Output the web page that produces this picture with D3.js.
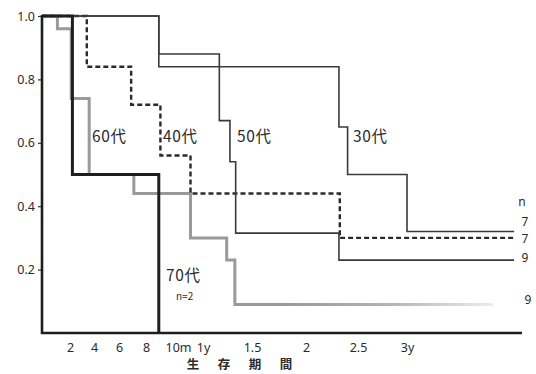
<!DOCTYPE html>
<html><head><meta charset="utf-8">
<script src="https://cdn.jsdelivr.net/npm/d3@7"></script>
<style>
  body { margin: 0; background: #fff; }
  text { font-family: "Noto Sans CJK JP", "Noto Sans", sans-serif; fill: #2b2b2b; }
</style>
</head><body>
<svg id="chart" width="536" height="374"></svg>
<script>
// Kaplan–Meier style survival by age group: time in months, survival proportion
const groups   = ["30代", "40代", "50代", "60代", "70代"];
const times30  = [0, 8.8, 27.8, 28.8, 36];
const surv30   = [1.0, 0.84, 0.65, 0.50, 0.32];
const times40  = [0, 3.4, 6.9, 8.9, 11, 27.9];
const surv40   = [1.0, 0.84, 0.72, 0.56, 0.44, 0.30];
const times50  = [0, 8.8, 14, 15.3, 16, 27.8];
const surv50   = [1.0, 0.88, 0.67, 0.54, 0.315, 0.23];
const times60  = [0, 1.1, 2.1, 3.6, 7.1, 11, 14.9, 15.9];
const surv60   = [1.0, 0.96, 0.74, 0.50, 0.44, 0.30, 0.23, 0.09];
const times70  = [0, 2.2, 8.8];
const surv70   = [1.0, 0.5, 0];
const followUp = [50.9, 50.9, 50.9, 48, 8.8];   // last observed month per group
const nLabels  = ["7", "7", "9", "9", "n=2"];

const yTickVals  = [1.0, 0.8, 0.6, 0.4, 0.2];
const yTickText  = ["1.0", "0.8", "0.6", "0.4", "0.2"];
const xTickVals  = [2, 4, 6, 8, 10, 12, 18, 24, 30, 36];
const xTickText  = ["2", "4", "6", "8", "10m", "1y", "1.5", "2", "2.5", "3y"];
const xTitle     = ["生", "存", "期", "間"];

const svg = d3.select("#chart");

// The time axis is stretched for the first months and compressed afterwards
const x = d3.scaleLinear()
  .domain([0, 2, 4, 6, 8, 10, 12, 18, 24, 30, 36, 52])
  .range([42, 70, 94, 119, 146, 178, 203, 252, 306, 358, 407, 522]);
const y = d3.scaleLinear().domain([0, 1]).range([333, 16]);

const series = [
  { t: times30, s: surv30 },
  { t: times40, s: surv40 },
  { t: times50, s: surv50 },
  { t: times60, s: surv60 },
  { t: times70, s: surv70 }
].map((d, i) => {
  const pts = d.t.map((t, j) => [t, d.s[j]]);
  pts.push([followUp[i], d.s[d.s.length - 1]]);
  return { name: groups[i], pts };
});

const step = d3.line().x(d => x(d[0])).y(d => y(d[1])).curve(d3.curveStepAfter);

// gray curve fades out along its long tail
const defs = svg.append("defs");
const grad = defs.append("linearGradient")
  .attr("id", "tailFade").attr("gradientUnits", "userSpaceOnUse")
  .attr("x1", x(22)).attr("x2", x(48)).attr("y1", 0).attr("y2", 0);
grad.append("stop").attr("offset", 0).attr("stop-color", "#9a9a9a");
grad.append("stop").attr("offset", 0.5).attr("stop-color", "#b4b4b4");
grad.append("stop").attr("offset", 1).attr("stop-color", "#ececec");

const styles = {
  "30代": { stroke: "#3a3a3a", width: 1.6, dash: null },
  "40代": { stroke: "#2a2a2a", width: 2.4, dash: "5,3" },
  "50代": { stroke: "#3a3a3a", width: 1.6, dash: null },
  "60代": { stroke: "url(#tailFade)", width: 3, dash: null },
  "70代": { stroke: "#1e1e1e", width: 3, dash: null }
};
const drawOrder = ["60代", "40代", "50代", "30代", "70代"];

drawOrder.forEach(name => {
  const s = series.find(d => d.name === name);
  const st = styles[name];
  svg.append("path")
    .attr("d", step(s.pts))
    .attr("fill", "none")
    .attr("stroke", st.stroke)
    .attr("stroke-width", st.width)
    .attr("stroke-dasharray", st.dash)
    .attr("stroke-linejoin", "miter");
});

// axes
const yAxis = svg.append("g").attr("transform", `translate(${x(0)},0)`)
  .call(d3.axisLeft(y).tickValues(yTickVals).tickFormat((d, i) => yTickText[i]).tickSize(4).tickPadding(3));
yAxis.select(".domain").remove();
yAxis.selectAll("line").attr("stroke", "#333").attr("stroke-width", 1.2);
yAxis.selectAll("text").attr("font-size", 12.5).attr("fill", "#2b2b2b")
  .style("font-family", '"Noto Sans", sans-serif');

svg.append("line").attr("x1", x(0)).attr("x2", x(0)).attr("y1", y(1) - 1).attr("y2", y(0) + 1)
  .attr("stroke", "#1e1e1e").attr("stroke-width", 2.6);
svg.append("line").attr("x1", x(0) - 1).attr("x2", x(52)).attr("y1", y(0)).attr("y2", y(0))
  .attr("stroke", "#1e1e1e").attr("stroke-width", 2.6);

const xAxis = svg.append("g").attr("transform", `translate(0,${y(0)})`)
  .call(d3.axisBottom(x).tickValues(xTickVals).tickFormat((d, i) => xTickText[i]).tickSize(0).tickPadding(10));
xAxis.select(".domain").remove();
xAxis.selectAll("text").attr("font-size", 12.5).attr("fill", "#2b2b2b")
  .style("font-family", '"Noto Sans", sans-serif');

// axis title, spread letter by letter
svg.append("g").selectAll("text").data(xTitle).join("text")
  .attr("x", (d, i) => 193 + i * 31).attr("y", 369)
  .attr("text-anchor", "middle").attr("font-size", 12.5).attr("font-weight", "bold")
  .text(d => d);

// group names beside their curves
const groupLabels = [
  { name: "60代", x: 92,  y: 142 },
  { name: "40代", x: 163, y: 142 },
  { name: "50代", x: 237, y: 142 },
  { name: "30代", x: 353, y: 142 },
  { name: "70代", x: 166, y: 281 }
];
svg.append("g").selectAll("text").data(groupLabels).join("text")
  .attr("x", d => d.x).attr("y", d => d.y)
  .attr("font-size", 15.5).attr("letter-spacing", 0.6)
  .text(d => d.name);

svg.append("text").attr("x", 176).attr("y", 300).attr("font-size", 10).text(nLabels[4]);

// number of patients at the right-hand end
const endLabels = [
  { text: "n",         x: 522, y: 206 },
  { text: nLabels[0],  x: 525, y: 226 },
  { text: nLabels[1],  x: 525, y: 243 },
  { text: nLabels[2],  x: 525, y: 262 },
  { text: nLabels[3],  x: 528, y: 304 }
];
svg.append("g").selectAll("text").data(endLabels).join("text")
  .attr("x", d => d.x).attr("y", d => d.y)
  .attr("text-anchor", "middle").attr("font-size", 12)
  .style("font-family", '"Noto Sans", sans-serif')
  .text(d => d.text);
</script>
</body></html>
